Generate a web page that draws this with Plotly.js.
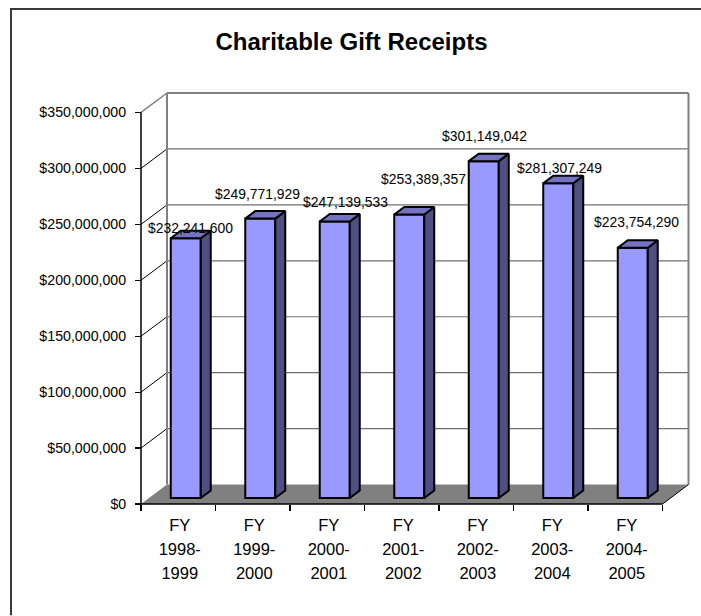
<!DOCTYPE html>
<html>
<head>
<meta charset="utf-8">
<script src="https://cdn.plot.ly/plotly-3.0.1.min.js"></script>
<style>html,body{margin:0;padding:0;background:#fff}</style>
</head>
<body>
<div id="chart" style="width:701px;height:616px"></div>
<script>
// Charitable gift receipts by fiscal year
const fiscalYears = [
  ["FY", "1998-", "1999"],
  ["FY", "1999-", "2000"],
  ["FY", "2000-", "2001"],
  ["FY", "2001-", "2002"],
  ["FY", "2002-", "2003"],
  ["FY", "2003-", "2004"],
  ["FY", "2004-", "2005"]
];
const receipts = [232241600, 249771929, 247139533, 253389357, 301149042, 281307249, 223754290];
const axisValues = [0, 50000000, 100000000, 150000000, 200000000, 250000000, 300000000, 350000000];

// Label nudges in pixels from each bar's front top edge
const labelShiftX = [5, -3, 11, 14, 1, 1, 4];
const labelShiftY = [10, 25, 19.5, 35.5, 25, 15, 25.7];

// Pseudo-3D box: scale of the axes and the depth of floor and bars
const W = 701, H = 616;
const pxPerCat = 74.5, pxPerDollar = 1.12e-6;
const originX = 141, originY = 504.5, pad = 4;
const cats = fiscalYears.length;
const maxV = axisValues[axisValues.length - 1];
const wallDX = 26 / pxPerCat, wallDY = 19.5 / pxPerDollar;
const barBase = 6 / pxPerDollar, barShift = 7.5 / pxPerCat, barHalf = 15 / pxPerCat;
const barDX = 10 / pxPerCat, barDY = 7.5 / pxPerDollar;

const plotLeft = originX - pad, plotBottom = originY + pad;
const plotRight = 693, plotTop = 89;
const xRange = [-pad / pxPerCat, (plotRight - originX) / pxPerCat];
const yRange = [-pad / pxPerDollar, (originY - plotTop) / pxPerDollar];

const money = v => "$" + v.toLocaleString("en-US");
const centers = receipts.map((_, i) => i + 0.5 + barShift);

function seg(x0, y0, x1, y1, color, width) {
  return {type: "line", layer: "below", xref: "x", yref: "y", x0, y0, x1, y1,
          line: {color, width}};
}

const shapes = [];
// Floor
shapes.push({type: "path", layer: "below", xref: "x", yref: "y",
  path: `M0,0 L${cats},0 L${cats + wallDX},${wallDY} L${wallDX},${wallDY} Z`,
  fillcolor: "#808080", line: {width: 0}});
// Gridlines on the back wall and the matching diagonals on the side wall
axisValues.forEach(v => {
  if (v > 0 && v < maxV) {
    shapes.push(seg(wallDX, v + wallDY, cats + wallDX, v + wallDY, "#707070", 1.2));
    shapes.push(seg(0, v, wallDX, v + wallDY, "#000000", 1));
  }
});
// Outline of the walls
shapes.push(seg(wallDX, wallDY, wallDX, maxV + wallDY, "#808080", 2));
shapes.push(seg(wallDX, maxV + wallDY, cats + wallDX, maxV + wallDY, "#808080", 2));
shapes.push(seg(cats + wallDX, wallDY, cats + wallDX, maxV + wallDY, "#808080", 2));
shapes.push(seg(0, maxV, wallDX, maxV + wallDY, "#808080", 1.5));
shapes.push(seg(cats, 0, cats + wallDX, wallDY, "#000000", 1));
// Front axis lines
shapes.push(seg(0, 0, 0, maxV, "#000000", 1.5));
shapes.push(seg(0, 0, cats, 0, "#000000", 1.5));
// Chart frame: its top and left edges run off the page
const paperX = px => (px - plotLeft) / (plotRight - plotLeft);
const paperY = px => (plotBottom - px) / (plotBottom - plotTop);
const frameEdge = (x0, y0, x1, y1) => ({type: "line", xref: "paper", yref: "paper", layer: "below",
  x0: paperX(x0), y0: paperY(y0), x1: paperX(x1), y1: paperY(y1),
  line: {color: "#3a3a3a", width: 2}});
shapes.push(frameEdge(10, 9, W, 9));
shapes.push(frameEdge(11, 8, 11, H));

// Front faces of the bars
const traces = [{
  type: "bar",
  x: centers,
  y: receipts,
  base: receipts.map(() => barBase),
  width: 2 * barHalf,
  marker: {color: "#9999FF", line: {color: "#000000", width: 2}},
  hoverinfo: "skip",
  showlegend: false
}];

// Side and top faces of the bars
receipts.forEach((v, i) => {
  const xr = centers[i] + barHalf, xl = centers[i] - barHalf, yt = v + barBase;
  traces.push({
    type: "scatter", mode: "lines", fill: "toself", fillcolor: "#4F4F82",
    x: [xr, xr + barDX, xr + barDX, xr, xr],
    y: [barBase, barBase + barDY, yt + barDY, yt, barBase],
    line: {color: "#000000", width: 2}, hoverinfo: "skip", showlegend: false
  });
  traces.push({
    type: "scatter", mode: "lines", fill: "toself", fillcolor: "#7373BF",
    x: [xl, xr, xr + barDX, xl + barDX, xl],
    y: [yt, yt, yt + barDY, yt + barDY, yt],
    line: {color: "#000000", width: 2}, hoverinfo: "skip", showlegend: false
  });
});

const annotations = receipts.map((v, i) => ({
  x: centers[i], y: v + barBase, xref: "x", yref: "y",
  text: money(v), showarrow: false,
  xanchor: "center", yanchor: "middle",
  xshift: labelShiftX[i], yshift: labelShiftY[i],
  font: {family: "Liberation Sans, Arial, sans-serif", size: 13.9, color: "#000000"}
}));

const catLabel = parts => parts.map(p => `<span style="font-size:16.5px">${p}</span>`).join("<br>");

const layout = {
  width: W, height: H,
  margin: {l: plotLeft, r: W - plotRight, t: plotTop, b: H - plotBottom, pad: 0},
  paper_bgcolor: "#ffffff", plot_bgcolor: "rgba(0,0,0,0)",
  showlegend: false,
  bargap: 0,
  title: {
    text: "<b>Charitable Gift Receipts</b>",
    font: {family: "Liberation Sans, Arial, sans-serif", size: 24, color: "#000000"},
    x: 351.5 / W, xanchor: "center", xref: "container", y: 1 - 42 / H, yanchor: "middle", yref: "container"
  },
  xaxis: {
    range: xRange, fixedrange: true, anchor: "free", position: pad / (plotBottom - plotTop),
    showgrid: false, zeroline: false, showline: false,
    tickmode: "array",
    tickvals: fiscalYears.map((_, i) => i + 0.52),
    ticktext: fiscalYears.map(catLabel),
    ticks: "", ticklabelstandoff: 8,
    tickfont: {family: "Liberation Sans, Arial, sans-serif", size: 18.46, color: "#000000"},
    minor: {
      tickmode: "array",
      tickvals: fiscalYears.map((_, i) => i).concat([cats]),
      ticks: "outside", ticklen: 6, tickwidth: 1.2, tickcolor: "#000000", showgrid: false
    }
  },
  yaxis: {
    range: yRange, fixedrange: true, anchor: "free", position: pad / (plotRight - plotLeft),
    showgrid: false, zeroline: false, showline: false,
    tickmode: "array",
    tickvals: axisValues,
    ticktext: axisValues.map(money),
    ticks: "outside", ticklen: 6, tickwidth: 1.2, tickcolor: "#000000",
    ticklabelstandoff: 6,
    tickfont: {family: "Liberation Sans, Arial, sans-serif", size: 14.2, color: "#000000"}
  },
  shapes, annotations
};

Plotly.newPlot("chart", traces, layout, {displayModeBar: false, staticPlot: true});
</script>
</body>
</html>
